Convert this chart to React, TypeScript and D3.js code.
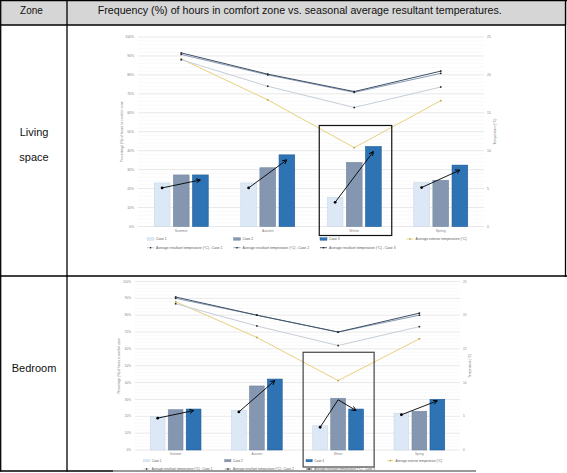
import React from "react";
import * as d3 from "d3";

const seasons = ["Summer", "Autumn", "Winter", "Spring"];
const cases = ["Case 1", "Case 2", "Case 3"];
const leftTicks = [0, 10, 20, 30, 40, 50, 60, 70, 80, 90, 100];
const rightTicks = [0, 5, 10, 15, 20, 25];
const highlightSeason = "Winter";

// Living space: % of hours in comfort zone
const livingCase1Pct = [23.0, 23.0, 15.4, 23.2];
const livingCase2Pct = [27.2, 31.0, 33.8, 24.4];
const livingCase3Pct = [27.2, 37.8, 42.2, 32.4];
// Living space: temperatures (°C)
const livingTempCase1 = [22.0, 18.5, 15.7, 18.4];
const livingTempCase2 = [22.7, 20.0, 17.7, 20.2];
const livingTempCase3 = [22.9, 20.1, 17.8, 20.5];
const livingTempExterior = [22.1, 16.7, 10.4, 16.6];
const livingArrows = [[0, 2], [0, 2], [0, 2], [0, 2]];

// Bedroom
const bedCase1Pct = [19.8, 23.5, 14.4, 21.8];
const bedCase2Pct = [23.9, 38.0, 30.7, 23.0];
const bedCase3Pct = [24.3, 42.1, 24.3, 30.1];
const bedTempCase1 = [21.7, 18.4, 15.5, 18.3];
const bedTempCase2 = [22.5, 20.0, 17.5, 20.0];
const bedTempCase3 = [22.7, 20.0, 17.5, 20.3];
const bedTempExterior = [22.0, 16.7, 10.3, 16.5];
const bedArrows = [[0, 2], [0, 2], [0, 1, 2], [0, 2]];

const headerZone = "Zone";
const headerTitle = "Frequency (%) of hours in comfort zone vs. seasonal average resultant temperatures.";
const leftAxisTitle = "Percentage (%) of hours in comfort zone";
const rightAxisTitle = "Temperature (°C)";
const barLegend = ["Case 1", "Case 2", "Case 3"];
const extLegend = "Average exterior temperature (°C)";
const resLegend = [
  "Average resultant temperature (°C) - Case 1",
  "Average resultant temperature (°C) - Case 2",
  "Average resultant temperature (°C) - Case 3",
];

const barFill = ["#dce8f5", "#8597b0", "#2e74b5"];
const barStroke = ["#c9d8ea", "#74869f", "#1f5a96"];
const lineColor = ["#c5ced9", "#8a9bb2", "#3e5068"];
const extColor = "#e6d27e";
const FONT = "'Liberation Sans', Arial, sans-serif";

type PanelProps = {
  id: string;
  left: number; right: number; top: number; bottom: number;
  pct: number[][]; temps: number[][]; ext: number[]; arrows: number[][];
  arrowOffset: number; fs: number;
  boxTopPct: number; boxPad: number; boxL: number; boxR: number; boxStroke: string;
  leftTitleX: number; rightTitleX: number; rightLabelX: number;
  leg1: number; leg2: number; legPad: number;
};

function Panel(p: PanelProps) {
  const y = d3.scaleLinear().domain([0, 100]).range([p.bottom, p.top]);
  const yT = d3.scaleLinear().domain([0, 25]).range([p.bottom, p.top]);
  const x0 = d3.scaleBand<string>().domain(seasons).range([p.left, p.right]);
  const bw = x0.bandwidth();
  const groupW = bw * 0.624;
  const x1 = d3.scaleBand<string>().domain(cases).range([0, groupW]).paddingInner(0.18);
  const cx = (s: string) => (x0(s) as number) + bw / 2;
  const barX = (s: string, c: string) => cx(s) - groupW / 2 + (x1(c) as number);
  const line = d3.line<number>().x((_, i) => cx(seasons[i])).y((v) => yT(v));
  const grid = d3.range(0, 101, 2);
  const midY = (p.top + p.bottom) / 2;
  const k = (p.bottom - p.top) / 189;
  const swW = 7 * k, swH = 2.6 * k;
  const legX = (i: number) => p.left + p.legPad + i * bw;

  return (
    <g>
      <defs>
        <marker id={`arr-${p.id}`} viewBox="0 0 8 8" refX="7" refY="4" markerWidth="5" markerHeight="5" markerUnits="userSpaceOnUse" orient="auto">
          <path d="M0,0.5 L7,4 L0,7.5" fill="none" stroke="#000" strokeWidth="1.4" />
        </marker>
      </defs>
      {grid.map((v) => (
        <line key={v} x1={p.left} x2={p.right} y1={y(v)} y2={y(v)}
          stroke={v % 10 === 0 ? "#d9d9d9" : "#ececec"} strokeWidth={0.6}
          strokeDasharray={v % 10 === 0 ? undefined : "0.8,0.8"} />
      ))}
      {leftTicks.map((v) => (
        <text key={v} x={p.left - 4} y={y(v)} dy="0.35em" textAnchor="end" fontSize={p.fs} fill="#7f7f7f" fontFamily={FONT}>{`${v}%`}</text>
      ))}
      {rightTicks.map((v) => (
        <text key={v} x={p.rightLabelX} y={yT(v)} dy="0.35em" textAnchor="start" fontSize={p.fs} fill="#7f7f7f" fontFamily={FONT}>{v}</text>
      ))}
      <text transform={`translate(${p.leftTitleX},${midY}) rotate(-90)`} textAnchor="middle" fontSize={p.fs} fill="#7f7f7f" fontFamily={FONT}>{leftAxisTitle}</text>
      <text transform={`translate(${p.rightTitleX},${midY}) rotate(-90)`} textAnchor="middle" fontSize={p.fs} fill="#7f7f7f" fontFamily={FONT}>{rightAxisTitle}</text>
      {seasons.map((s) => (
        <text key={s} x={cx(s)} y={p.bottom + 4.5 * k} dy="0.35em" textAnchor="middle" fontSize={p.fs} fill="#7f7f7f" fontFamily={FONT}>{s}</text>
      ))}
      {seasons.map((s, si) =>
        cases.map((c, ci) => (
          <rect key={s + c} x={barX(s, c)} y={y(p.pct[ci][si])} width={x1.bandwidth()}
            height={p.bottom - y(p.pct[ci][si])} fill={barFill[ci]} stroke={barStroke[ci]} strokeWidth={0.6} />
        ))
      )}
      <path d={line(p.ext) as string} fill="none" stroke={extColor} strokeWidth={1} />
      {p.ext.map((v, i) => (
        <rect key={i} x={cx(seasons[i]) - 0.8} y={yT(v) - 0.8} width={1.6} height={1.6} fill="#b9a24a" />
      ))}
      {[0, 1, 2].map((ci) => (
        <g key={ci}>
          <path d={line(p.temps[ci]) as string} fill="none" stroke={lineColor[ci]} strokeWidth={1} />
          {p.temps[ci].map((v, i) => (
            <rect key={i} x={cx(seasons[i]) - 0.8} y={yT(v) - 0.8} width={1.6} height={1.6} fill="#222" />
          ))}
        </g>
      ))}
      {seasons.map((s, si) => {
        const pts: [number, number][] = p.arrows[si].map((ci) => [
          barX(s, cases[ci]) + x1.bandwidth() / 2,
          y(p.pct[ci][si]) + p.arrowOffset,
        ]);
        return (
          <g key={s}>
            <path d={d3.line()(pts) as string} fill="none" stroke="#000" strokeWidth={0.9} markerEnd={`url(#arr-${p.id})`} />
            <circle cx={pts[0][0]} cy={pts[0][1]} r={1.4} fill="#000" />
          </g>
        );
      })}
      <rect x={cx(highlightSeason) - p.boxL} y={y(p.boxTopPct)} width={p.boxL + p.boxR}
        height={p.bottom + p.boxPad - y(p.boxTopPct)} fill="none" stroke={p.boxStroke} strokeWidth={1.2} />
      {barLegend.map((t, i) => (
        <g key={t}>
          <rect x={legX(i)} y={p.leg1 - swH / 2} width={swW} height={swH} fill={barFill[i]} stroke={barStroke[i]} strokeWidth={0.4} />
          <text x={legX(i) + swW + 2} y={p.leg1} dy="0.35em" fontSize={p.fs} fill="#595959" fontFamily={FONT}>{t}</text>
        </g>
      ))}
      <g>
        <line x1={legX(3)} x2={legX(3) + swW} y1={p.leg1} y2={p.leg1} stroke={extColor} strokeWidth={0.9} />
        <rect x={legX(3) + swW / 2 - 0.7} y={p.leg1 - 0.7} width={1.4} height={1.4} fill="#b9a24a" />
        <text x={legX(3) + swW + 2} y={p.leg1} dy="0.35em" fontSize={p.fs} fill="#595959" fontFamily={FONT}>{extLegend}</text>
      </g>
      {resLegend.map((t, i) => (
        <g key={t}>
          <line x1={legX(i)} x2={legX(i) + swW} y1={p.leg2} y2={p.leg2} stroke={lineColor[i]} strokeWidth={0.9} />
          <rect x={legX(i) + swW / 2 - 0.7} y={p.leg2 - 0.7} width={1.4} height={1.4} fill="#222" />
          <text x={legX(i) + swW + 2} y={p.leg2} dy="0.35em" fontSize={p.fs} fill="#595959" fontFamily={FONT}>{t}</text>
        </g>
      ))}
    </g>
  );
}

export default function App() {
  return (
    <svg width={567} height={473} style={{ position: "absolute", left: 0, top: 0, background: "#fff" }}>
      <rect x={0} y={0} width={567} height={25} fill="#d6d6d6" />
      <text x={31.5} y={13.5} textAnchor="middle" fontSize={10} fontFamily={FONT} fill="#111">{headerZone}</text>
      <text x={299.7} y={13.5} textAnchor="middle" fontSize={10} fontFamily={FONT} fill="#111" textLength={404} lengthAdjust="spacingAndGlyphs">{headerTitle}</text>
      <text x={34} y={136} textAnchor="middle" fontSize={11} fontFamily={FONT} fill="#111">Living</text>
      <text x={34} y={161} textAnchor="middle" fontSize={11} fontFamily={FONT} fill="#111">space</text>
      <text x={34} y={371.5} textAnchor="middle" fontSize={11} fontFamily={FONT} fill="#111">Bedroom</text>

      <Panel id="living" left={138} right={484} top={37} bottom={226.5}
        pct={[livingCase1Pct, livingCase2Pct, livingCase3Pct]}
        temps={[livingTempCase1, livingTempCase2, livingTempCase3]} ext={livingTempExterior}
        arrows={livingArrows} arrowOffset={5} fs={3.4}
        boxTopPct={53.3} boxPad={9} boxL={35} boxR={37.5} boxStroke="#111"
        leftTitleX={123} rightTitleX={496} rightLabelX={487}
        leg1={239} leg2={247.7} legPad={9} />
      <Panel id="bed" left={135} right={460} top={281.5} bottom={450}
        pct={[bedCase1Pct, bedCase2Pct, bedCase3Pct]}
        temps={[bedTempCase1, bedTempCase2, bedTempCase3]} ext={bedTempExterior}
        arrows={bedArrows} arrowOffset={1.5} fs={3.1}
        boxTopPct={58} boxPad={17} boxL={35} boxR={36} boxStroke="#444"
        leftTitleX={120} rightTitleX={471} rightLabelX={463}
        leg1={460.7} leg2={469} legPad={8.5} />

      <g stroke="#000" strokeWidth={1.3}>
        <line x1={0.7} x2={0.7} y1={0} y2={471.5} />
        <line x1={67} x2={67} y1={0} y2={471.5} />
        <line x1={565.5} x2={565.5} y1={0} y2={277} />
        <line x1={0} x2={567} y1={0.7} y2={0.7} />
        <line x1={0} x2={566} y1={25} y2={25} />
        <line x1={0} x2={567} y1={276} y2={276} />
        <line x1={0} x2={113} y1={471} y2={471} />
      </g>
      <line x1={113} x2={476} y1={471} y2={471} stroke="#777" strokeWidth={1.3} />
    </svg>
  );
}
